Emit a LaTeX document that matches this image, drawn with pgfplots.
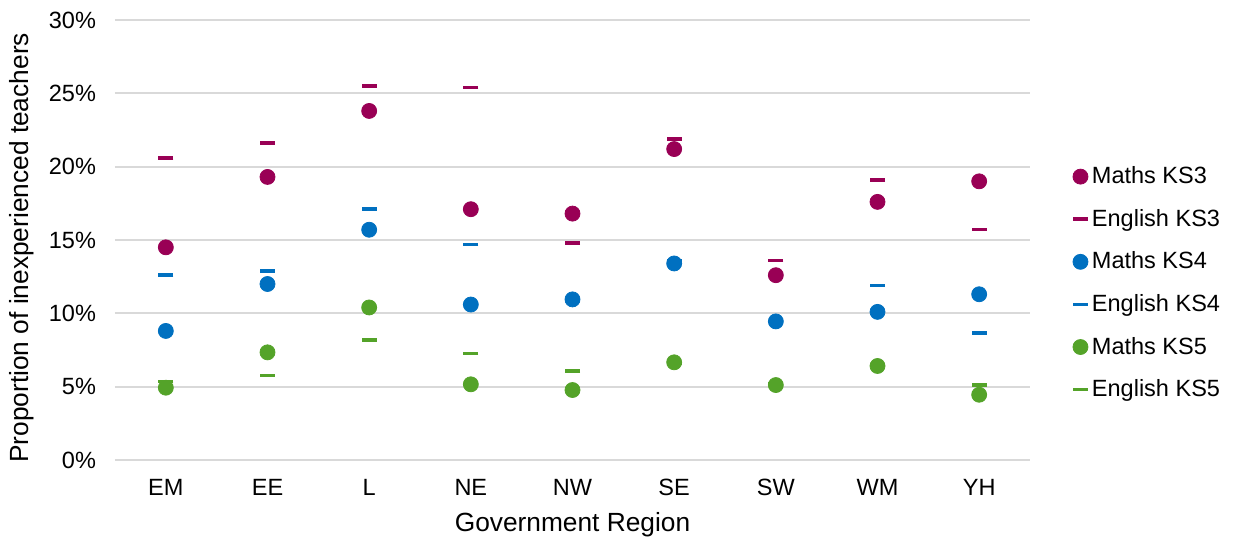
\documentclass[border=0pt]{standalone}
\usepackage{pgfplots}
\pgfplotsset{compat=1.18}
\usepackage{fontspec}
\setmainfont{Liberation Sans}
\definecolor{ksThree}{RGB}{153,0,85}
\definecolor{ksFour}{RGB}{0,112,192}
\definecolor{ksFive}{RGB}{84,163,41}
\definecolor{gridGray}{RGB}{217,217,217}

\begin{document}
\begin{tikzpicture}
\begin{axis}[
    name=ax,
    scale only axis,
    width=457.5bp,
    height=220bp,
    xmin=-0.5, xmax=8.5,
    ymin=0, ymax=30,
    xtick={0,...,8},
    xticklabels={EM,EE,L,NE,NW,SE,SW,WM,YH},
    ytick={0,5,10,15,20,25,30},
    yticklabels={0\%,5\%,10\%,15\%,20\%,25\%,30\%},
    ymajorgrids=true,
    major grid style={gridGray, line width=0.9bp},
    axis line style={draw=none},
    tick style={draw=none},
    ticklabel style={font=\fontsize{11.8}{14}\selectfont},
    xticklabel style={anchor=center, yshift=-13.5bp},
    yticklabel style={anchor=east, xshift=-6bp},
    xlabel={Government Region},
    ylabel={Proportion of inexperienced teachers},
    label style={font=\fontsize{13.2}{16}\selectfont},
    xlabel style={at={(axis description cs:0.5,-0.148)}, anchor=center},
    ylabel style={at={(axis description cs:-0.1016,0.482)}, anchor=center},
    legend style={draw=none, fill=none, at={(1.04,0.402)}, anchor=west,
        font=\fontsize{11.8}{14}\selectfont, row sep=7.3bp},
    legend cell align=left,
    only marks,
    clip=false,
]
% Maths: circles, English: dashes
\addplot[mark=*, mark size=3.75bp, ksThree, mark options={draw=ksThree, fill=ksThree}] coordinates {
(0,14.5) (1,19.3) (2,23.8) (3,17.1) (4,16.8) (5,21.2) (6,12.6) (7,17.6) (8,19.0)};
\addplot[mark=-, mark size=3.75bp, ksThree, mark options={line width=1.75bp}] coordinates {
(0,20.6) (1,21.6) (2,25.5) (3,25.4) (4,14.8) (5,21.9) (6,13.6) (7,19.1) (8,15.7)};
\addplot[mark=*, mark size=3.75bp, ksFour, mark options={draw=ksFour, fill=ksFour}] coordinates {
(0,8.8) (1,12.0) (2,15.7) (3,10.6) (4,10.95) (5,13.4) (6,9.45) (7,10.1) (8,11.3)};
\addplot[mark=-, mark size=3.75bp, ksFour, mark options={line width=1.75bp}] coordinates {
(0,12.6) (1,12.9) (2,17.1) (3,14.7) (4,10.9) (5,13.6) (6,9.45) (7,11.9) (8,8.66)};
\addplot[mark=*, mark size=3.75bp, ksFive, mark options={draw=ksFive, fill=ksFive}] coordinates {
(0,4.93) (1,7.34) (2,10.4) (3,5.16) (4,4.77) (5,6.66) (6,5.11) (7,6.41) (8,4.45)};
\addplot[mark=-, mark size=3.75bp, ksFive, mark options={line width=1.75bp}] coordinates {
(0,5.34) (1,5.75) (2,8.18) (3,7.27) (4,6.07) (5,6.6) (6,5.2) (7,6.5) (8,5.11)};
\legend{Maths KS3, English KS3, Maths KS4, English KS4, Maths KS5, English KS5}
\end{axis}
\pgfresetboundingbox
\path[use as bounding box] ([shift={(-57.5bp,-38.5bp)}]ax.south west) rectangle ([shift={(102bp,10bp)}]ax.north east);
\end{tikzpicture}
\end{document}
